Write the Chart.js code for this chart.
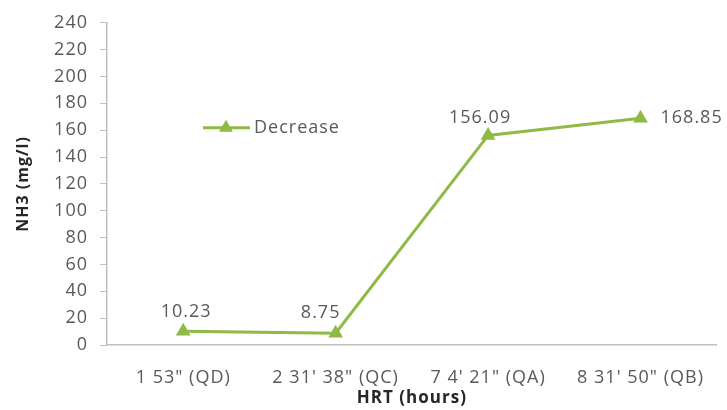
<!DOCTYPE html>
<html>
<head>
<meta charset="utf-8">
<script src="https://cdn.jsdelivr.net/npm/chart.js@4/dist/chart.umd.min.js"></script>
<style>
  html, body { margin: 0; padding: 0; background: #fff; }
  #wrap { width: 727px; height: 410px; }
</style>
</head>
<body>
<div id="wrap"><canvas id="c" width="727" height="410"></canvas></div>
<script>
// HRT categories and NH3 reduction values
const categories = ['1 53" (QD)', "2 31' 38\" (QC)", "7 4' 21\" (QA)", "8 31' 50\" (QB)"];
const decrease = [10.23, 8.75, 156.09, 168.85];
const valueLabels = ['10.23', '8.75', '156.09', '168.85'];
const seriesName = 'Decrease';
const yTicks = [0, 20, 40, 60, 80, 100, 120, 140, 160, 180, 200, 220, 240];

const GREEN = '#8fba45';
const TEXT = '#595959';
const FONT = "'Open Sans', sans-serif";
const SIZE = 18;
const SPACING = '1px';

// where each value label sits relative to its point
const labelPlacement = ['top', 'topleft', 'topleftnear', 'right'];

// slightly wider glyph spacing for all canvas text
const spacingPlugin = {
  id: 'spacing',
  beforeUpdate(chart) { chart.ctx.letterSpacing = SPACING; },
  beforeLayout(chart) { chart.ctx.letterSpacing = SPACING; },
  beforeDraw(chart) { chart.ctx.letterSpacing = SPACING; }
};

const valueLabelPlugin = {
  id: 'valueLabels',
  afterDatasetsDraw(chart) {
    const ctx = chart.ctx;
    const meta = chart.getDatasetMeta(0);
    ctx.save();
    ctx.font = SIZE + 'px ' + FONT;
    ctx.fillStyle = TEXT;
    ctx.textBaseline = 'middle';
    meta.data.forEach((pt, i) => {
      const p = labelPlacement[i];
      let x = pt.x, y = pt.y;
      if (p === 'top') { ctx.textAlign = 'center'; x += 3; y -= 19; }
      else if (p === 'topleft') { ctx.textAlign = 'center'; x -= 15; y -= 20; }
      else if (p === 'topleftnear') { ctx.textAlign = 'center'; x -= 8; y -= 18; }
      else if (p === 'right') { ctx.textAlign = 'left'; x += 20; }
      ctx.fillText(valueLabels[i], x, y);
    });
    ctx.restore();
  }
};

const inlineLegendPlugin = {
  id: 'inlineLegend',
  afterDraw(chart) {
    const ctx = chart.ctx;
    const a = chart.chartArea;
    const x0 = a.left + 96, y = a.top + 105;
    ctx.save();
    ctx.strokeStyle = GREEN;
    ctx.lineWidth = 3;
    ctx.beginPath();
    ctx.moveTo(x0, y);
    ctx.lineTo(x0 + 47, y);
    ctx.stroke();
    ctx.fillStyle = GREEN;
    Chart.helpers.drawPoint(ctx, { pointStyle: 'triangle', radius: 8, borderWidth: 0 }, x0 + 23, y);
    ctx.font = SIZE + 'px ' + FONT;
    ctx.fillStyle = TEXT;
    ctx.textAlign = 'left';
    ctx.textBaseline = 'middle';
    ctx.fillText(seriesName, x0 + 51, y);
    ctx.restore();
  }
};

new Chart(document.getElementById('c'), {
  type: 'line',
  data: {
    labels: categories,
    datasets: [{
      label: seriesName,
      data: decrease,
      borderColor: GREEN,
      backgroundColor: GREEN,
      borderWidth: 3,
      pointStyle: 'triangle',
      pointRadius: 8.5,
      pointBorderWidth: 0,
      tension: 0
    }]
  },
  options: {
    responsive: false,
    animation: false,
    layout: { padding: { left: 6, right: 8, top: 15, bottom: 2 } },
    plugins: { legend: { display: false }, tooltip: { enabled: false } },
    scales: {
      x: {
        offset: true,
        afterFit(s) { s.height = 63; },
        grid: { display: false, drawTicks: false },
        border: { display: true, color: '#bfbfbf', width: 1.5 },
        ticks: { color: TEXT, font: { family: FONT, size: SIZE }, padding: 22, maxRotation: 0, autoSkip: false },
        title: { display: true, text: 'HRT (hours)', color: '#262626', font: { family: FONT, size: 17, weight: 'bold' }, padding: { top: 0, bottom: 0 } }
      },
      y: {
        min: 0, max: 240,
        afterBuildTicks(s) { s.ticks = yTicks.map(v => ({ value: v })); },
        afterFit(s) { s.width = 101; },
        grid: { drawOnChartArea: false, drawTicks: true, tickLength: 7, color: '#bfbfbf' },
        border: { display: true, color: '#bfbfbf', width: 1.5 },
        ticks: { color: TEXT, font: { family: FONT, size: SIZE }, padding: 12 },
        title: { display: true, text: 'NH3 (mg/l)', color: '#262626', font: { family: FONT, size: 16, weight: 'bold' }, padding: { top: 8, bottom: 0 } }
      }
    }
  },
  plugins: [spacingPlugin, valueLabelPlugin, inlineLegendPlugin]
});
</script>
</body>
</html>
